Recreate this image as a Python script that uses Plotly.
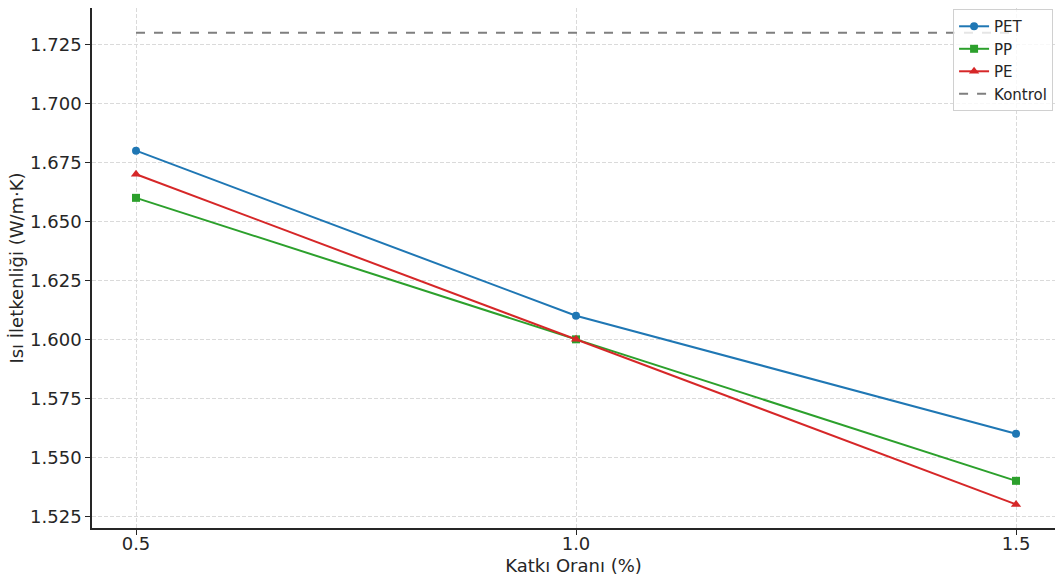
import plotly.graph_objects as go

x_vals = [0.5, 1.0, 1.5]
pet = [1.68, 1.61, 1.56]
pp = [1.66, 1.60, 1.54]
pe = [1.67, 1.60, 1.53]
kontrol = [1.73, 1.73, 1.73]

y_ticks = [1.525, 1.550, 1.575, 1.600, 1.625, 1.650, 1.675, 1.700, 1.725]
x_ticks = [0.5, 1.0, 1.5]

FONT = "DejaVu Sans"
fig = go.Figure()
fig.add_trace(go.Scatter(x=x_vals, y=pet, name="PET", mode="lines+markers",
                         line=dict(color="#1f77b4", width=2),
                         marker=dict(symbol="circle", size=8, color="#1f77b4")))
fig.add_trace(go.Scatter(x=x_vals, y=pp, name="PP", mode="lines+markers",
                         line=dict(color="#2ca02c", width=2),
                         marker=dict(symbol="square", size=8, color="#2ca02c")))
fig.add_trace(go.Scatter(x=x_vals, y=pe, name="PE", mode="lines+markers",
                         line=dict(color="#d62728", width=2),
                         marker=dict(symbol="triangle-up", size=9, color="#d62728")))
fig.add_trace(go.Scatter(x=x_vals, y=kontrol, name="Kontrol", mode="lines",
                         line=dict(color="#7f7f7f", width=2, dash="dash")))

fig.update_layout(
    width=1055, height=577,
    margin=dict(l=92, r=0, t=8, b=49, autoexpand=False),
    paper_bgcolor="white", plot_bgcolor="white",
    font=dict(family=FONT, size=18, color="#262626"),
    legend=dict(x=0.998, y=0.998, xanchor="right", yanchor="top",
                bgcolor="rgba(255,255,255,0.8)", bordercolor="#d0d0d0", borderwidth=1,
                font=dict(size=15), tracegroupgap=0, itemwidth=30),
    showlegend=True,
)
fig.update_xaxes(range=[0.45, 1.5443], tickvals=x_ticks, ticktext=["0.5", "1.0", "1.5"],
                 showgrid=True, gridcolor="#dadada", griddash="4px,2px", gridwidth=1,
                 showline=True, linecolor="#262626", linewidth=1.5,
                 ticks="outside", ticklen=5, tickcolor="#262626", zeroline=False,
                 ticklabelstandoff=-6,
                 title=dict(text="Katkı Oranı (%)", font=dict(size=18), standoff=6))
fig.update_yaxes(range=[1.52, 1.7405], tickvals=y_ticks, tickformat=".3f",
                 showgrid=True, gridcolor="#dadada", griddash="4px,2px", gridwidth=1,
                 showline=True, linecolor="#262626", linewidth=1.5,
                 ticks="outside", ticklen=5, tickcolor="#262626", zeroline=False,
                 title=dict(text="Isı İletkenliği (W/m·K)", font=dict(size=18), standoff=2))

fig.write_html("out.html", config={"displayModeBar": False},
               post_script="document.body.style.margin='0';")
